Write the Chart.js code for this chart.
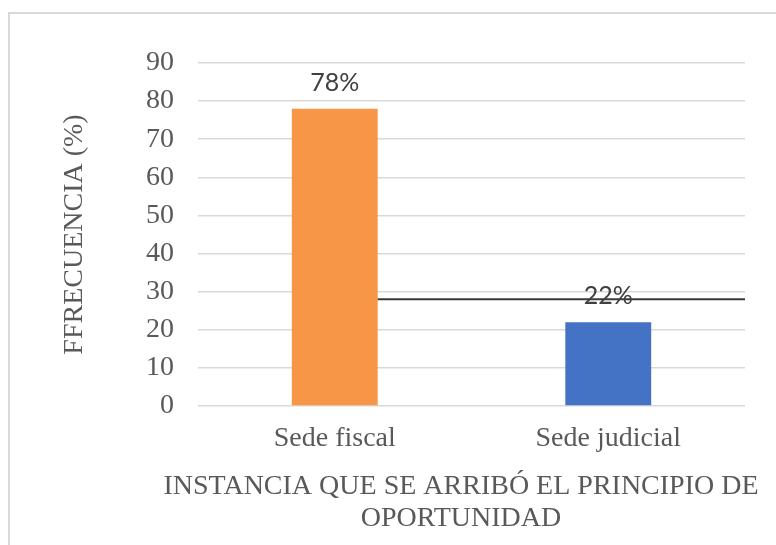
<!DOCTYPE html>
<html><head><meta charset="utf-8">
<script src="https://cdn.jsdelivr.net/npm/chart.js@4"></script>
<style>
html,body{margin:0;padding:0;background:#fff;overflow:hidden;width:776px;height:545px}
#frame{position:absolute;left:8px;top:12px;width:800px;height:560px;border:2px solid #d9d9d9;background:#fff}
#c{position:absolute;left:0;top:0}
</style></head><body>
<div id="frame"><canvas id="c" width="766" height="531"></canvas></div>
<script>
const categories = ['Sede fiscal', 'Sede judicial'];
const values = [78, 22];
const valueLabels = ['78%', '22%'];
const barColors = ['#F79646', '#4472C4'];
const yTickLabels = ['0','10','20','30','40','50','60','70','80','90'];
const referenceValue = [28];
const yTitle = 'FFRECUENCIA (%)';
const xTitleLines = ['INSTANCIA QUE SE ARRIBÓ EL PRINCIPIO DE', 'OPORTUNIDAD'];

const overlay = {
  id: 'overlay',
  afterDatasetsDraw(chart) {
    const ctx = chart.ctx;
    const meta = chart.getDatasetMeta(0);
    const ys = chart.scales.y;
    const area = chart.chartArea;
    ctx.save();
    const b0 = meta.data[0];
    const x0 = b0.x + b0.width / 2;
    const yy = ys.getPixelForValue(referenceValue[0]);
    ctx.strokeStyle = '#3a3a3a';
    ctx.lineWidth = 2;
    ctx.beginPath();
    ctx.moveTo(x0, yy);
    ctx.lineTo(area.right, yy);
    ctx.stroke();
    ctx.font = '25px Lato';
    ctx.fillStyle = '#404040';
    ctx.textAlign = 'center';
    ctx.textBaseline = 'middle';
    meta.data.forEach((bar, i) => ctx.fillText(valueLabels[i], bar.x, bar.y - 26));
    ctx.font = '28px "Liberation Serif"';
    ctx.fillStyle = '#595959';
    xTitleLines.forEach((t, i) => ctx.fillText(t, 451, 473 + 32 * i));
    ctx.restore();
  }
};

new Chart(document.getElementById('c'), {
  type: 'bar',
  data: {
    labels: categories,
    datasets: [{
      data: values,
      backgroundColor: barColors,
      borderWidth: 0,
      categoryPercentage: 1,
      barPercentage: 0.314
    }]
  },
  options: {
    responsive: false,
    animation: false,
    layout: { padding: { top: 49, right: 31, left: 0, bottom: 0 } },
    plugins: { legend: { display: false }, tooltip: { enabled: false } },
    scales: {
      x: {
        grid: { display: false },
        border: { display: false },
        ticks: { color: '#595959', font: { family: 'Liberation Serif', size: 28 }, padding: 8 },
        afterFit(s) { s.height = 139; }
      },
      y: {
        min: 0, max: 90,
        grid: { color: '#d9d9d9', lineWidth: 1.5, drawTicks: false },
        border: { display: false },
        ticks: {
          stepSize: 10,
          color: '#595959',
          font: { family: 'Liberation Serif', size: 28 },
          padding: 24,
          callback: (v, i) => yTickLabels[i]
        },
        title: {
          display: true, text: yTitle, color: '#595959',
          font: { family: 'Liberation Serif', size: 28 },
          padding: { top: 48, bottom: 0 }
        },
        afterFit(s) { s.width = 188; }
      }
    }
  },
  plugins: [overlay]
});
</script>
</body></html>
